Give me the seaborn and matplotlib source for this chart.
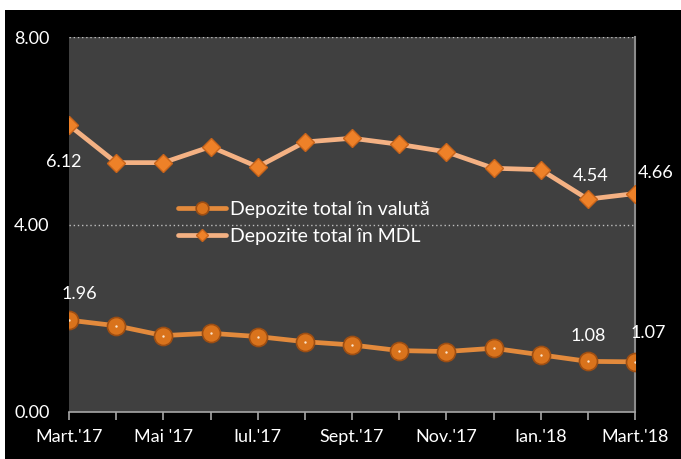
import matplotlib
matplotlib.use("Agg")
import matplotlib.pyplot as plt
import seaborn as sns
import pandas as pd
import numpy as np
from matplotlib.patches import Rectangle

months = ["Mart.'17", "Apr.'17", "Mai '17", "Iun.'17", "Iul.'17", "Aug.'17", "Sept.'17",
          "Oct.'17", "Nov.'17", "Dec.'17", "Ian.'18", "Febr.'18", "Mart.'18"]
valuta = [1.96, 1.84, 1.63, 1.68, 1.61, 1.50, 1.43, 1.31, 1.29, 1.36, 1.22, 1.08, 1.07]
mdl = [6.12, 5.32, 5.32, 5.66, 5.23, 5.76, 5.84, 5.71, 5.55, 5.20, 5.17, 4.54, 4.66]
name_val = "Depozite total în valută"
name_mdl = "Depozite total în MDL"
yticks = [0.0, 4.0, 8.0]

sns.set_theme(style="dark")
plt.rcParams['font.family'] = ['Lato', 'DejaVu Sans']

W, H = 681, 459
fig = plt.figure(figsize=(W / 100, H / 100), dpi=100)
fig.patch.set_facecolor("white")
fig.patches.append(Rectangle((5 / W, 0), 1 - 5 / W, 1 - 10 / H, transform=fig.transFigure,
                             facecolor="black", edgecolor="none", zorder=-10))

ax = fig.add_axes([69 / W, (H - 412) / H, (635 - 69) / W, (412 - 37) / H])
ax.set_facecolor("#404040")

idx = np.arange(len(months))
df = pd.DataFrame({"m": idx, "valuta": valuta, "mdl": mdl})

# gridlines
for yv in yticks[1:]:
    ax.axhline(yv, color="#bfbfbf", lw=1.0, ls=(0, (1, 2)), zorder=1)

sns.lineplot(data=df, x="m", y="valuta", ax=ax, color="#E38A3C", lw=3.4,
             marker="o", markersize=13, markerfacecolor="#D9731C",
             markeredgecolor="#9E4E12", markeredgewidth=1.2, label=name_val, zorder=3)
sns.lineplot(data=df, x="m", y="mdl", ax=ax, color="#F4B183", lw=3.4,
             marker="D", markersize=9, markerfacecolor="#EE8128",
             markeredgecolor="#C8641A", markeredgewidth=1.0, label=name_mdl, zorder=3)
# small highlights on circles
ax.scatter(idx, valuta, s=3, color="#FBE3C8", zorder=4, linewidths=0)

ax.set_xlim(0, 12)
ax.set_ylim(0, 8)
ax.set_xticks(idx)
ax.set_xticklabels([m if i % 2 == 0 else "" for i, m in enumerate(months)])
ax.set_yticks(yticks)
ax.set_yticklabels([f"{v:.2f}" for v in yticks])
ax.set_xlabel("")
ax.set_ylabel("")

ax.tick_params(axis="x", colors="white", labelsize=13, length=6, width=1.2,
               direction="out", pad=6, bottom=True, color="#a6a6a6")
ax.tick_params(axis="y", colors="white", labelsize=13, length=0, pad=14)
for lab in ax.get_xticklabels() + ax.get_yticklabels():
    lab.set_color("white")

for s in ["top", "left"]:
    ax.spines[s].set_visible(False)
ax.spines["bottom"].set_color("#a6a6a6")
ax.spines["bottom"].set_linewidth(1.2)
ax.spines["right"].set_color("#8c8c8c")
ax.spines["right"].set_linewidth(1.5)
ax.grid(False)

leg = ax.legend(loc="upper left", bbox_to_anchor=(0.175, 0.588), frameon=False,
                fontsize=14, handlelength=2.5, handletextpad=0.2, labelspacing=0.5,
                borderpad=0, markerscale=0.7)
for t in leg.get_texts():
    t.set_color("white")

lab_kw = dict(textcoords="offset pixels", ha="center", va="center", color="white", fontsize=13)
ax.annotate(f"{mdl[0]:.2f}", (0, mdl[0]), xytext=(-5, -37), **lab_kw)
ax.annotate(f"{mdl[11]:.2f}", (11, mdl[11]), xytext=(3, 23), **lab_kw)
ax.annotate(f"{mdl[12]:.2f}", (12, mdl[12]), xytext=(21, 21), **lab_kw)
ax.annotate(f"{valuta[0]:.2f}", (0, valuta[0]), xytext=(10, 26), **lab_kw)
ax.annotate(f"{valuta[11]:.2f}", (11, valuta[11]), xytext=(0, 25), **lab_kw)
ax.annotate(f"{valuta[12]:.2f}", (12, valuta[12]), xytext=(13, 29), **lab_kw)

for a in ax.texts:
    a.set_clip_on(False)

fig.savefig("out.png", dpi=100, facecolor=fig.get_facecolor())
